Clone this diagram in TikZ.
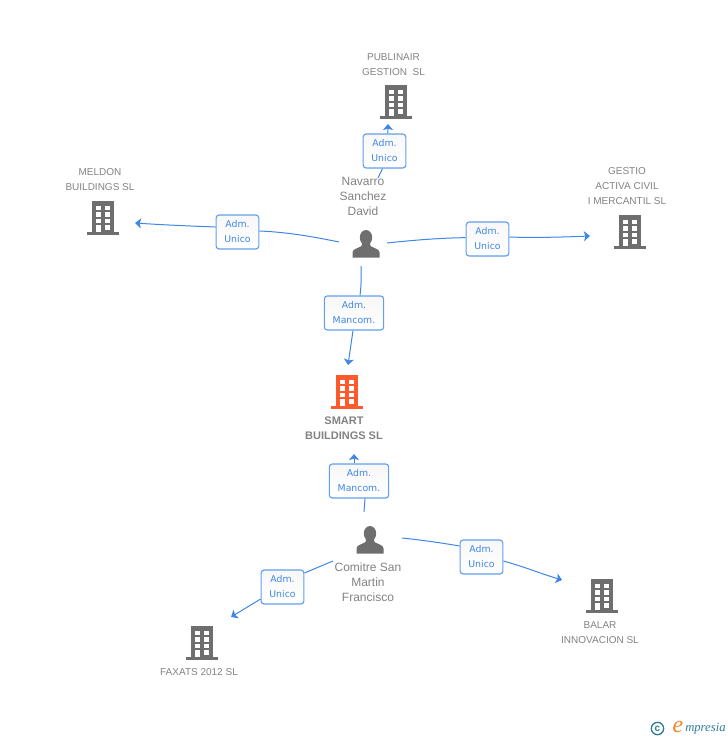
\documentclass[tikz,border=0pt]{standalone}
\usepackage{fontspec}
\setmainfont{Liberation Sans}
\newfontfamily\boxfont{DejaVu Sans}
\newfontfamily\logofont{Liberation Serif}
\definecolor{empresiablue}{HTML}{3F86E6}
\definecolor{empresiaedge}{HTML}{639FEE}
\definecolor{empresiagray}{HTML}{6E6E6E}
\definecolor{empresiatext}{HTML}{828282}
\definecolor{empresiaorange}{HTML}{FF5A2B}
\definecolor{empresialogo}{HTML}{F0862A}
\definecolor{empresiateal}{HTML}{2E7C96}
\usetikzlibrary{arrows.meta}
\tikzset{
  rolebox/.style={draw=empresiaedge,line width=0.85pt,rounded corners=2.2pt,top color=black!3,bottom color=white,
    text=empresiablue,font=\boxfont\fontsize{7}{11.25}\selectfont,align=center,minimum height=25.5pt,inner sep=0pt},
  unico/.style={rolebox,minimum width=32pt},
  mancom/.style={rolebox,minimum width=44.5pt},
  company/.style={text=empresiatext,font=\fontsize{7.5}{11.25}\selectfont,align=center,inner sep=0pt},
  owner/.style={text=empresiatext,font=\fontsize{9}{11.25}\selectfont,align=center,inner sep=0pt},
  link/.style={draw=empresiablue,line width=0.75pt},
  linkarrow/.style={link,-{Stealth[width=7.5pt,length=4.5pt,inset=1pt]}},
  pics/building/.style={code={
    \fill[#1] (-11,-17) rectangle (11,14);
    \fill[#1] (-16,14) rectangle (16,17);
    \foreach \rowy in {-12.5,-6,0.5} {
      \fill[white] (-7.5,\rowy) rectangle (-2.5,\rowy+4.5);
      \fill[white] (2,\rowy) rectangle (7,\rowy+4.5);
    }
    \fill[white] (-7.5,7) rectangle (-2.5,14);
    \fill[white] (2,7) rectangle (7,11.5);
  }},
  pics/person/.style={code={
    \fill[empresiagray] (0,-6.5) ellipse (6.2 and 7.5);
    \fill[empresiagray] (-13.5,13.5) -- (-13.5,8.5) .. controls (-13.5,5.5) and (-10,5) .. (-4.5,2)
      -- (-4,-1) -- (4,-1) -- (4.5,2) .. controls (10,5) and (13.5,5.5) .. (13.5,8.5) -- (13.5,13.5) -- cycle;
  }}
}
\begin{document}
\begin{tikzpicture}[x=0.75pt,y=-0.75pt]
\useasboundingbox (0,0) rectangle (728,740);
\pic at (396,102) {building=empresiagray};
\pic at (103,218) {building=empresiagray};
\pic at (630,232) {building=empresiagray};
\pic at (347,392) {building=empresiaorange};
\pic at (602,596) {building=empresiagray};
\pic at (202,643) {building=empresiagray};
\pic at (366,244) {person};
\pic at (370,540) {person};
\node[company] (publinair) at (393.5,64.5) {PUBLINAIR\\GESTION\ \ SL};
\node[company] (meldon) at (100,179.5) {MELDON\\BUILDINGS SL};
\node[company] (gestio) at (627,186) {GESTIO\\ACTIVA CIVIL\\I MERCANTIL SL};
\node[company,font=\bfseries\fontsize{8.25}{11.25}\selectfont] (smart) at (344,428.5) {SMART\\BUILDINGS SL};
\node[company] (balar) at (600,632.5) {BALAR\\INNOVACION SL};
\node[company] (faxats) at (199,672) {FAXATS 2012 SL};
\node[owner] (navarro) at (363,196) {Navarro\\Sanchez\\David};
\node[owner] (comitre) at (368,582) {Comitre San\\Martin\\Francisco};
\node[unico] (boxpublinair) at (384.5,151) {Adm.\\Unico};
\node[unico] (boxmeldon) at (237.5,232) {Adm.\\Unico};
\node[unico] (boxgestio) at (487.5,239) {Adm.\\Unico};
\node[mancom] (boxnavarro) at (354,313) {Adm.\\Mancom.};
\node[mancom] (boxcomitre) at (359,481) {Adm.\\Mancom.};
\node[unico] (boxbalar) at (481.5,557) {Adm.\\Unico};
\node[unico] (boxfaxats) at (282.5,587) {Adm.\\Unico};
\coordinate (startup) at (378,178);
\coordinate (startleft) at (339,242);
\coordinate (startright) at (387,243);
\coordinate (startdown) at (361,266);
\coordinate (startsmart) at (364,512);
\coordinate (startbalar) at (402,538);
\coordinate (startfaxats) at (333,561);
\coordinate (tippublinair) at (388,124);
\coordinate (tipmeldon) at (135,223);
\coordinate (tipgestio) at (590,236);
\coordinate (tipsmartA) at (348,365);
\coordinate (tipsmartB) at (354,454);
\coordinate (tipbalar) at (562,580);
\coordinate (tipfaxats) at (231,617);
\draw[link] (startup) -- ([xshift=-1.5pt]boxpublinair.south);
\draw[linkarrow] ([xshift=2.6pt]boxpublinair.north) -- (tippublinair);
\draw[link] (startleft) .. controls (310,236) and (285,232) .. ([yshift=0.75pt]boxmeldon.east);
\draw[linkarrow] ([yshift=3.75pt]boxmeldon.west) .. controls (190,226) and (165,225) .. (tipmeldon);
\draw[link] (startright) .. controls (415,240) and (440,238) .. ([yshift=1pt]boxgestio.west);
\draw[linkarrow] ([yshift=1.5pt]boxgestio.east) .. controls (535,238) and (565,237) .. (tipgestio);
\draw[link] (startdown) .. controls (361.5,278) and (361,288) .. ([xshift=4.5pt]boxnavarro.north);
\draw[linkarrow] ([xshift=-0.75pt]boxnavarro.south) -- (tipsmartA);
\draw[link] (startsmart) -- ([xshift=4.5pt]boxcomitre.south);
\draw[linkarrow] ([xshift=-3.75pt]boxcomitre.north) -- (tipsmartB);
\draw[link] (startbalar) .. controls (422,540) and (442,543) .. ([yshift=8.25pt]boxbalar.west);
\draw[linkarrow] ([yshift=-3pt]boxbalar.east) .. controls (522,566) and (542,574) .. (tipbalar);
\draw[link] (startfaxats) -- ([yshift=10.5pt]boxfaxats.east);
\draw[linkarrow] ([yshift=-9pt]boxfaxats.west) -- (tipfaxats);
\node[text=empresiateal,circle,draw=empresiateal,line width=1pt,inner sep=0pt,minimum size=9.25pt,font=\bfseries\fontsize{7.5}{7.5}\selectfont] (copyright) at (657.5,728.5) {c};
\node[text=empresialogo,font=\logofont\itshape\fontsize{18}{18}\selectfont,inner sep=0pt] (logoe) at (678,727) {e};
\node[text=empresiateal,font=\logofont\itshape\fontsize{9.5}{9.5}\selectfont,inner sep=0pt,anchor=west] (logoname) at (685,729) {mpresia};
\end{tikzpicture}
\end{document}
